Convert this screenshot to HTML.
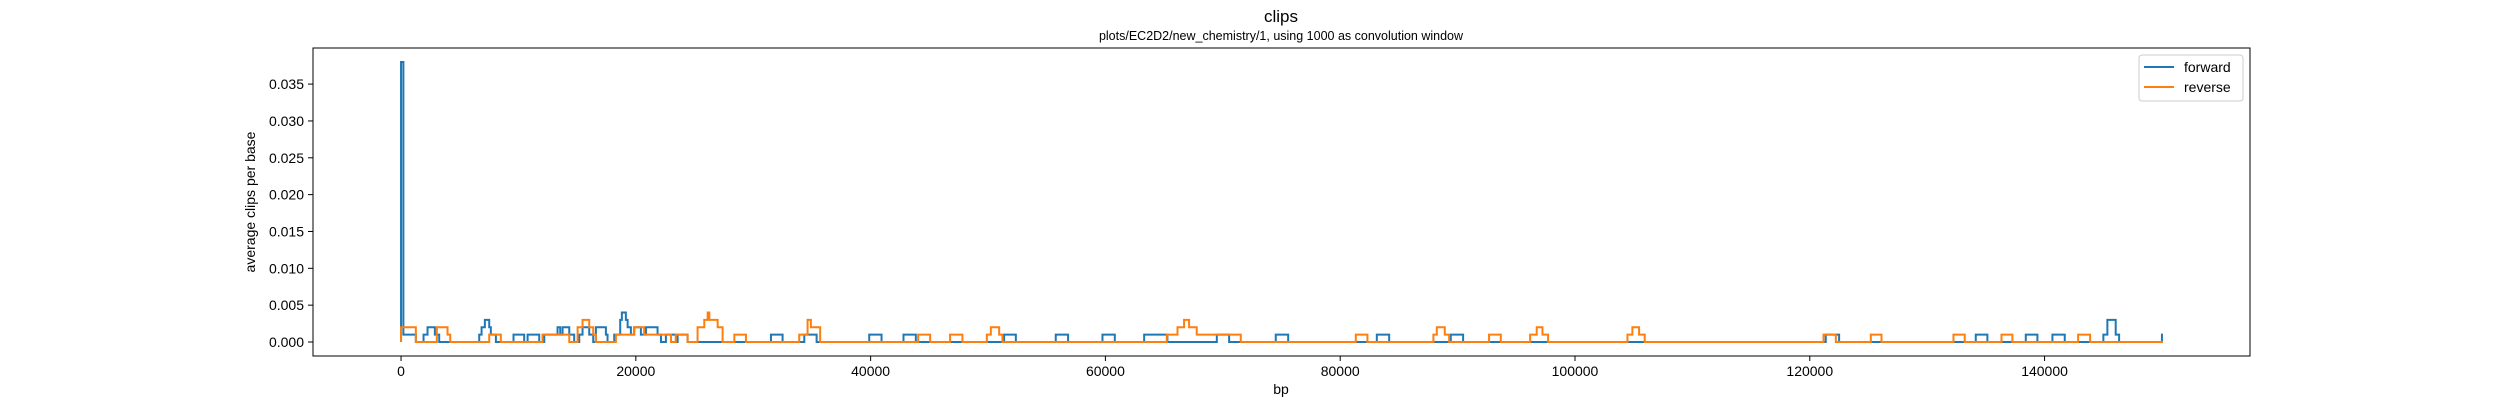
<!DOCTYPE html>
<html><head><meta charset="utf-8"><style>
html,body{margin:0;padding:0;background:#fff;}
svg{display:block;font-family:"Liberation Sans","DejaVu Sans",sans-serif;}
</style></head><body>
<svg id="chart" width="2500" height="400" viewBox="0 0 2500 400">
<text x="1281" y="22" text-anchor="middle" font-size="17">clips</text>
<text x="1281" y="40" text-anchor="middle" font-size="12.5">plots/EC2D2/new_chemistry/1, using 1000 as convolution window</text>
<g id="plot"></g>
<rect x="313" y="48" width="1937" height="308" fill="none" stroke="#000" stroke-width="1"/>
<g id="xticks"></g>
<g id="yticks"></g>
<text x="1281" y="394" text-anchor="middle" font-size="14">bp</text>
<text transform="translate(255,202) rotate(-90)" text-anchor="middle" font-size="14">average clips per base</text>
<g>
<rect x="2139" y="55" width="104" height="46" rx="3" fill="#fff" fill-opacity="0.8" stroke="#ccc" stroke-width="1"/>
<line x1="2144" y1="67" x2="2174" y2="67" stroke="#1f77b4" stroke-width="2"/>
<text x="2184" y="72" font-size="14">forward</text>
<line x1="2144" y1="87" x2="2174" y2="87" stroke="#ff7f0e" stroke-width="2"/>
<text x="2184" y="92" font-size="14">reverse</text>
</g>
</svg>
<script>
const xTicks = [0, 20000, 40000, 60000, 80000, 100000, 120000, 140000];
const xTickLabels = ["0", "20000", "40000", "60000", "80000", "100000", "120000", "140000"];
const yTicks = [0, 0.005, 0.01, 0.015, 0.02, 0.025, 0.03, 0.035];
const yTickLabels = ["0.000", "0.005", "0.010", "0.015", "0.020", "0.025", "0.030", "0.035"];
const forwardX = [0,200,1260,1915,2255,2880,3250,6660,6860,7140,7510,7650,8080,9580,10490,10780,11770,12200,13330,13560,13760,14330,14750,15180,15460,16030,16370,16600,17450,17590,18160,18670,18810,19150,19300,19580,19860,20430,20860,21850,22140,22560,23410,23560,24410,31510,32500,34350,35400,39880,40930,42800,43850,51370,52370,55770,56820,59750,60800,63300,65280,69490,70540,74510,75570,83120,84170,89420,90470,121360,122500,134140,135130,138400,139390,140670,141720,145010,145350,146060,146350,150000];
const forwardY = [0.038,0.001,0,0.001,0.002,0.001,0,0.001,0.002,0.003,0.002,0.001,0,0.001,0,0.001,0,0.001,0.002,0.001,0.002,0.001,0,0.001,0.002,0.001,0,0.002,0.001,0,0.001,0.003,0.004,0.003,0.002,0.001,0.002,0.001,0.002,0.001,0,0.001,0,0.001,0,0.001,0,0.001,0,0.001,0,0.001,0,0.001,0,0.001,0,0.001,0,0.001,0,0.001,0,0.001,0,0.001,0,0.001,0,0.001,0,0.001,0,0.001,0,0.001,0,0.001,0.003,0.001,0,0.001];
const reverseX = [0,1260,3050,3960,4190,7510,8500,12050,14330,15040,15460,16030,16370,16600,18300,19860,20710,23000,23410,24410,25260,25830,26120,26260,26970,27390,28390,29380,33920,34630,34910,35700,44050,45070,46770,47820,49900,50240,50950,51230,65230,66140,66700,67130,67300,67780,70540,71530,81330,82320,87940,88230,88910,89280,92680,93680,96180,96740,97230,97710,104470,104890,105460,105940,121170,122220,125200,126110,132240,133200,136330,137260,142860,143880,150000];
const reverseY = [0.002,0,0.002,0.001,0,0.001,0,0.001,0,0.002,0.003,0.002,0.001,0,0.001,0.002,0.001,0,0.001,0,0.002,0.003,0.004,0.003,0.002,0,0.001,0,0.001,0.003,0.002,0,0.001,0,0.001,0,0.001,0.002,0.001,0,0.001,0.002,0.003,0.002,0.002,0.001,0.001,0,0.001,0,0.001,0.002,0.001,0,0.001,0,0.001,0.002,0.001,0,0.001,0.002,0.001,0,0.001,0,0.001,0,0.001,0,0.001,0,0.001,0,0];

const X0=-7500, X1=157500, PX0=313, PX1=2250;
const Y0=-0.0019, Y1=0.0399, PY0=356, PY1=48;
const sx = v => PX0 + (v - X0) / (X1 - X0) * (PX1 - PX0);
const sy = v => PY0 + (v - Y0) / (Y1 - Y0) * (PY1 - PY0);
const NS = "http://www.w3.org/2000/svg";

const xg = document.getElementById('xticks');
xTicks.forEach((t, i) => {
  const l = document.createElementNS(NS, 'line');
  l.setAttribute('x1', sx(t)); l.setAttribute('x2', sx(t));
  l.setAttribute('y1', 356); l.setAttribute('y2', 361);
  l.setAttribute('stroke', '#000');
  
  
  xg.appendChild(l);
  const tx = document.createElementNS(NS, 'text');
  tx.setAttribute('x', sx(t)); tx.setAttribute('y', 376);
  tx.setAttribute('text-anchor', 'middle'); tx.setAttribute('font-size', '14');
  tx.textContent = xTickLabels[i];
  
  
  xg.appendChild(tx);
});
const yg = document.getElementById('yticks');
yTicks.forEach((t, i) => {
  const l = document.createElementNS(NS, 'line');
  l.setAttribute('x1', 308); l.setAttribute('x2', 313);
  l.setAttribute('y1', sy(t)); l.setAttribute('y2', sy(t));
  l.setAttribute('stroke', '#000');
  
  
  yg.appendChild(l);
  const tx = document.createElementNS(NS, 'text');
  tx.setAttribute('x', 304); tx.setAttribute('y', sy(t) + 5);
  tx.setAttribute('text-anchor', 'end'); tx.setAttribute('font-size', '14');
  tx.textContent = yTickLabels[i];
  
  
  yg.appendChild(tx);
});

function stepPath(xs, ys) {
  let d = 'M' + sx(xs[0]).toFixed(2) + ',' + sy(0).toFixed(2);
  for (let i = 0; i < xs.length; i++) {
    const xa = sx(xs[i]);
    const xb = i + 1 < xs.length ? sx(xs[i + 1]) : sx(xs[i]) + 1;
    d += 'L' + xa.toFixed(2) + ',' + sy(ys[i]).toFixed(2) + 'L' + xb.toFixed(2) + ',' + sy(ys[i]).toFixed(2);
  }
  return d;
}
const pg = document.getElementById('plot');
const pf = document.createElementNS(NS, 'path');
pf.setAttribute('d', stepPath(forwardX, forwardY));
pf.setAttribute('fill', 'none'); pf.setAttribute('stroke', '#1f77b4'); pf.setAttribute('stroke-width', '2');


pg.appendChild(pf);
const pr = document.createElementNS(NS, 'path');
pr.setAttribute('d', stepPath(reverseX, reverseY));
pr.setAttribute('fill', 'none'); pr.setAttribute('stroke', '#ff7f0e'); pr.setAttribute('stroke-width', '2');


pg.appendChild(pr);
</script>
</body></html>
